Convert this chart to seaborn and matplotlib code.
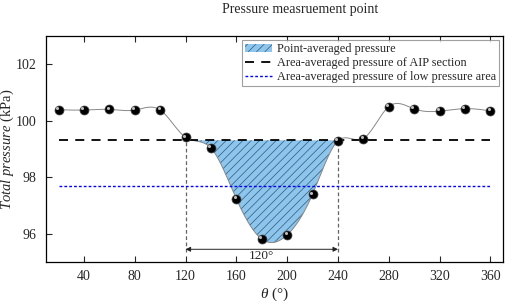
import numpy as np
import pandas as pd
import seaborn as sns
import matplotlib
matplotlib.use("Agg")
import matplotlib.pyplot as plt

theta = [20, 40, 60, 80, 100, 120, 140, 160, 180, 200, 220, 240, 260, 280, 300, 320, 340, 360]
pressure = [100.39, 100.38, 100.40, 100.38, 100.38, 99.41, 99.03, 97.23, 95.81, 95.96,
            97.40, 99.29, 99.37, 100.50, 100.42, 100.34, 100.43, 100.35]
aip_avg = 99.31
low_avg = 97.70
low_range = [120, 240]
xticks = [40, 80, 120, 160, 200, 240, 280, 320, 360]
yticks = [96, 98, 100, 102]

sns.set_theme(style="white")
plt.rcParams["font.family"] = ["Liberation Serif", "DejaVu Serif"]
plt.rcParams["mathtext.fontset"] = "custom"
plt.rcParams["mathtext.rm"] = "Liberation Serif"
plt.rcParams["mathtext.it"] = "Liberation Serif:italic"
plt.rcParams["hatch.linewidth"] = 0.5


def natural_spline(x, y, xs):
    x = np.asarray(x, float); y = np.asarray(y, float)
    n = len(x)
    h = np.diff(x)
    A = np.zeros((n, n)); b = np.zeros(n)
    A[0, 0] = A[-1, -1] = 1
    for i in range(1, n - 1):
        A[i, i - 1] = h[i - 1]; A[i, i] = 2 * (h[i - 1] + h[i]); A[i, i + 1] = h[i]
        b[i] = 6 * ((y[i + 1] - y[i]) / h[i] - (y[i] - y[i - 1]) / h[i - 1])
    M = np.linalg.solve(A, b)
    idx = np.clip(np.searchsorted(x, xs) - 1, 0, n - 2)
    x0, x1 = x[idx], x[idx + 1]; hh = x1 - x0
    return (M[idx] * (x1 - xs) ** 3 / (6 * hh) + M[idx + 1] * (xs - x0) ** 3 / (6 * hh)
            + (y[idx] / hh - M[idx] * hh / 6) * (x1 - xs)
            + (y[idx + 1] / hh - M[idx + 1] * hh / 6) * (xs - x0))


xs = np.linspace(theta[0], theta[-1], 700)
ys = natural_spline(theta, pressure, xs)
df = pd.DataFrame({"theta": theta, "pressure": pressure})
curve = pd.DataFrame({"theta": xs, "pressure": ys})

fig = plt.figure(figsize=(5.05, 3.07), dpi=100)
ax = fig.add_axes([46 / 505, 1 - 262 / 307, 457 / 505, 226 / 307])

mask = (xs >= low_range[0]) & (xs <= low_range[1])
ax.fill_between(xs[mask], np.minimum(ys[mask], aip_avg), aip_avg, facecolor="#8ec5ec",
                edgecolor="#2f5a78", hatch="////", linewidth=0, label="Point-averaged pressure", zorder=1)

sns.lineplot(data=curve, x="theta", y="pressure", ax=ax, color="#888888", lw=0.7, zorder=2, legend=False)
ax.plot([theta[0], theta[-1]], [aip_avg, aip_avg], color="black", ls=(0, (5, 4)), lw=1.3,
        label="Area-averaged pressure of AIP section", zorder=3)
ax.plot([theta[0], theta[-1]], [low_avg, low_avg], color="blue", ls=(0, (2, 1.5)), lw=1.0,
        label="Area-averaged pressure of low pressure area", zorder=3)
sns.scatterplot(data=df, x="theta", y="pressure", ax=ax, color="black", s=42, edgecolor="#444444",
                linewidth=0.5, zorder=5, legend=False)
ax.scatter(np.array(theta) - 1.3, np.array(pressure) + 0.06, s=5, color="#bbbbbb", linewidth=0, zorder=6)

ybot = 95.45
i0 = theta.index(low_range[0]); i1 = theta.index(low_range[1])
ax.plot([low_range[0], low_range[0]], [ybot - 0.1, pressure[i0]], color="#666666", ls=(0, (3, 2)), lw=0.9, zorder=2)
ax.plot([low_range[1], low_range[1]], [ybot - 0.1, pressure[i1]], color="#666666", ls=(0, (3, 2)), lw=0.9, zorder=2)
ax.annotate("", xy=(low_range[0], ybot), xytext=(low_range[1], ybot),
            arrowprops=dict(arrowstyle="<|-|>", color="#222222", lw=0.7, mutation_scale=7, shrinkA=0, shrinkB=0))
ax.text(sum(low_range) / 2, ybot - 0.04, "120°", ha="center", va="top", fontsize=9.5)

ax.set_xlim(10, 370)
ax.set_ylim(95, 103)
ax.set_xticks(xticks)
ax.set_yticks(yticks)
ax.tick_params(axis="x", direction="in", top=True, bottom=True, length=4, width=0.8, labelsize=10, pad=6)
ax.tick_params(axis="y", direction="in", left=True, right=False, length=4, width=0.8, labelsize=10, pad=7)
for s in ax.spines.values():
    s.set_color("black"); s.set_linewidth(0.9)
ax.set_xlabel(r"$\it{\theta}$ (°)", fontsize=11, labelpad=2)
ax.set_ylabel(r"$\it{Total\ pressure}$ (kPa)", fontsize=10.5)
ax.yaxis.set_label_coords(-30 / 457, 0.5)

leg = ax.legend(loc="upper right", fontsize=8.8, frameon=True, fancybox=False, edgecolor="#888888",
                borderpad=0.25, labelspacing=0.15, handlelength=2.2, handletextpad=0.4, borderaxespad=0.35)
leg.get_frame().set_linewidth(0.8)

fig.text(300 / 505, 1 - 9 / 307, "Pressure measruement point", ha="center", va="center", fontsize=10)

fig.savefig("out.png", dpi=100)
